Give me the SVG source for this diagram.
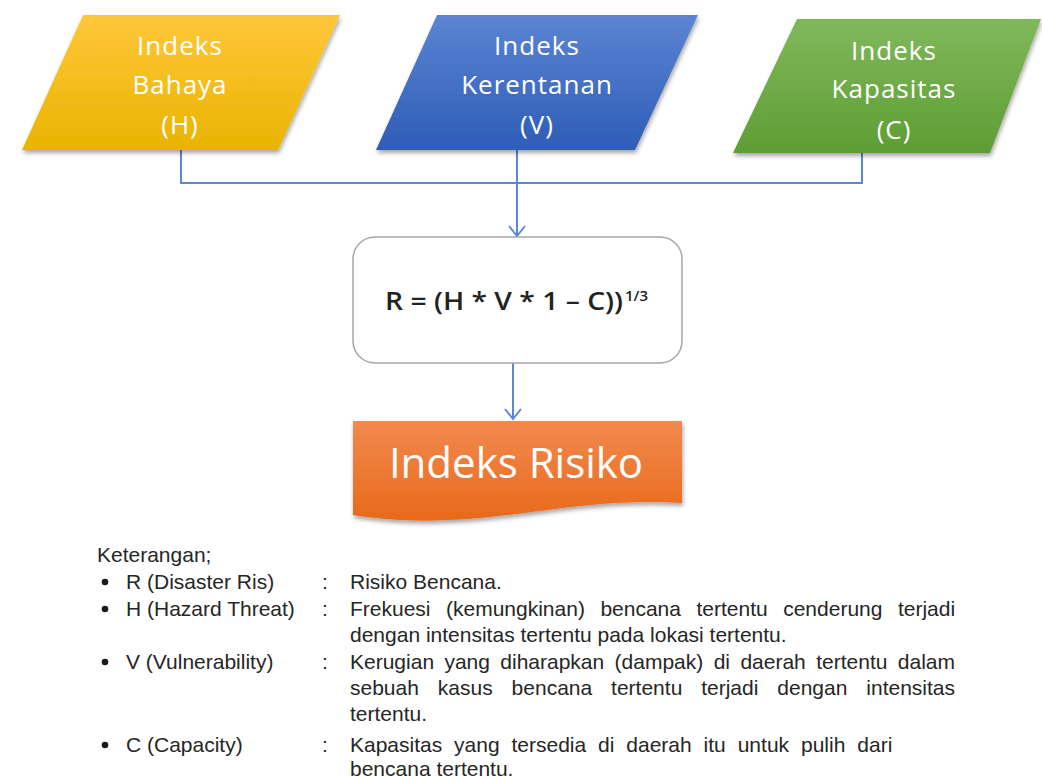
<svg xmlns="http://www.w3.org/2000/svg" width="1042" height="778" viewBox="0 0 1042 778">
<defs>
<linearGradient id="gY" x1="0" y1="0" x2="0" y2="1"><stop offset="0" stop-color="#FFC73A"/><stop offset="1" stop-color="#E9B400"/></linearGradient>
<linearGradient id="gB" x1="0" y1="0" x2="0" y2="1"><stop offset="0" stop-color="#5C84D2"/><stop offset="1" stop-color="#2E5DB8"/></linearGradient>
<linearGradient id="gG" x1="0" y1="0" x2="0" y2="1"><stop offset="0" stop-color="#80B95B"/><stop offset="1" stop-color="#5E9D34"/></linearGradient>
<linearGradient id="gO" x1="0" y1="0" x2="0" y2="1"><stop offset="0" stop-color="#F28A4E"/><stop offset="1" stop-color="#E8691B"/></linearGradient>
<filter id="sh" x="-10%" y="-10%" width="125%" height="130%"><feDropShadow dx="1" dy="3" stdDeviation="2" flood-color="#000" flood-opacity="0.35"/></filter>
<marker id="arr" viewBox="-1 -9 13 18" refX="10" refY="0" markerWidth="13" markerHeight="18" markerUnits="userSpaceOnUse" orient="auto"><path d="M0,-8 L10,0 L0,8" fill="none" stroke="#5B87D3" stroke-width="2"/></marker>
</defs>
<style>
.sh{font-family:"Open Sans","Noto Sans",sans-serif;font-size:26px;fill:#fff;text-anchor:middle;letter-spacing:1px}
.con{fill:none;stroke:#5B87D3;stroke-width:2}
.lg{font-family:"Liberation Sans",Arial,sans-serif;font-size:21px;fill:#262626}
.bul{fill:#1a1a1a}
</style>
<rect width="1042" height="778" fill="#fff"/>
<g id="connectors">
<path class="con" d="M181,150 V183 H862 V153"/>
<path class="con" d="M517,150 V236" marker-end="url(#arr)"/>
<path class="con" d="M513,363 V419" marker-end="url(#arr)"/>
</g>
<g id="node-bahaya">
<polygon points="83,15 340,15 278,150 22,150" fill="url(#gY)" filter="url(#sh)"/>
<text class="sh" x="180" y="55">Indeks</text>
<text class="sh" x="180" y="94">Bahaya</text>
<text class="sh" x="180" y="134">(H)</text>
</g>
<g id="node-kerentanan">
<polygon points="437,15 698,15 635,150 376,150" fill="url(#gB)" filter="url(#sh)"/>
<text class="sh" x="537" y="55">Indeks</text>
<text class="sh" x="537" y="94">Kerentanan</text>
<text class="sh" x="537" y="134">(V)</text>
</g>
<g id="node-kapasitas">
<polygon points="797,19 1041,19 990,153 733,153" fill="url(#gG)" filter="url(#sh)"/>
<text class="sh" x="894" y="60">Indeks</text>
<text class="sh" x="894" y="98">Kapasitas</text>
<text class="sh" x="894" y="139">(C)</text>
</g>
<g id="node-formula">
<rect x="353" y="237" width="329" height="126" rx="22" fill="#fff" stroke="#A6A6A6" stroke-width="1.5"/>
<text x="385" y="310" textLength="238" lengthAdjust="spacingAndGlyphs" style="font-family:'Open Sans','Noto Sans',sans-serif;font-size:25px;font-weight:600;fill:#222">R = (H * V * 1 – C))</text>
<text x="625" y="301" style="font-family:'Open Sans','Noto Sans',sans-serif;font-size:15px;font-weight:600;fill:#222">1/3</text>
</g>
<g id="node-risiko">
<path d="M353,421 H682 V503 C630,500 585,505 540,511 C480,519 420,526 353,515 Z" fill="url(#gO)" filter="url(#sh)"/>
<text x="516" y="478" style="font-family:'Open Sans','Noto Sans',sans-serif;font-size:42px;fill:#fff;text-anchor:middle">Indeks Risiko</text>
</g>
<g id="legend">
<text class="lg" x="97" y="562">Keterangan;</text>
<circle class="bul" cx="105" cy="582" r="3.3"/>
<circle class="bul" cx="105" cy="609" r="3.3"/>
<circle class="bul" cx="105" cy="662" r="3.3"/>
<circle class="bul" cx="105" cy="745" r="3.3"/>
<text class="lg" x="126" y="589">R (Disaster Ris)</text>
<text class="lg" x="126" y="616">H (Hazard Threat)</text>
<text class="lg" x="126" y="669">V (Vulnerability)</text>
<text class="lg" x="126" y="752">C (Capacity)</text>
<text class="lg" x="322" y="589">:</text>
<text class="lg" x="322" y="616">:</text>
<text class="lg" x="322" y="669">:</text>
<text class="lg" x="322" y="752">:</text>
<text class="lg" x="350" y="589">Risiko Bencana.</text>
<text class="lg" y="616"><tspan x="350">Frekuesi</tspan><tspan x="446">(kemungkinan)</tspan><tspan x="600.4">bencana</tspan><tspan x="696.5">tertentu</tspan><tspan x="783.2">cenderung</tspan><tspan x="897.9">terjadi</tspan></text>
<text class="lg" x="350" y="642">dengan intensitas tertentu pada lokasi tertentu.</text>
<text class="lg" y="669"><tspan x="350">Kerugian</tspan><tspan x="444.4">yang</tspan><tspan x="500.3">diharapkan</tspan><tspan x="614.6">(dampak)</tspan><tspan x="713.7">di</tspan><tspan x="740.4">daerah</tspan><tspan x="816.2">tertentu</tspan><tspan x="897.8">dalam</tspan></text>
<text class="lg" y="695"><tspan x="350">sebuah</tspan><tspan x="437.8">kasus</tspan><tspan x="511.6">bencana</tspan><tspan x="611.1">tertentu</tspan><tspan x="701.2">terjadi</tspan><tspan x="777.3">dengan</tspan><tspan x="866.3">intensitas</tspan></text>
<text class="lg" x="350" y="721">tertentu.</text>
<text class="lg" y="752"><tspan x="350">Kapasitas</tspan><tspan x="454.1">yang</tspan><tspan x="511.5">tersedia</tspan><tspan x="598.1">di</tspan><tspan x="626.3">daerah</tspan><tspan x="703.6">itu</tspan><tspan x="737.7">untuk</tspan><tspan x="801">pulih</tspan><tspan x="857.3">dari</tspan></text>
<text class="lg" x="350" y="776">bencana tertentu.</text>
</g>
</svg>
